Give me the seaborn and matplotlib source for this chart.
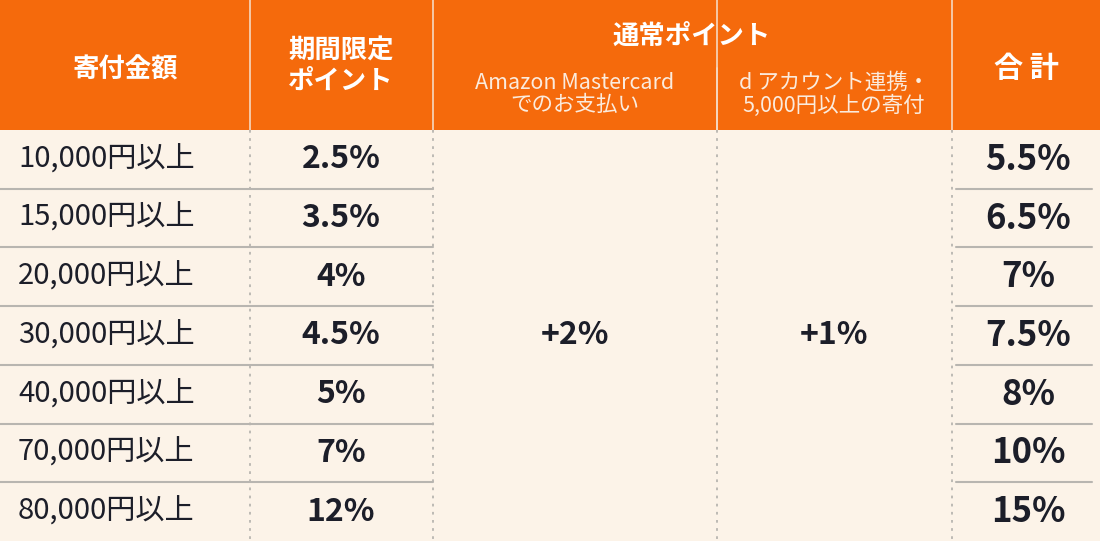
import matplotlib
matplotlib.use("Agg")
import matplotlib.pyplot as plt
import seaborn as sns
import pandas as pd

sns.set_theme(style="white", rc={"font.family": "Noto Sans CJK JP"})

amounts = ["10,000円以上", "15,000円以上", "20,000円以上", "30,000円以上",
           "40,000円以上", "70,000円以上", "80,000円以上"]
limited = ["2.5%", "3.5%", "4%", "4.5%", "5%", "7%", "12%"]
totals = ["5.5%", "6.5%", "7%", "7.5%", "8%", "10%", "15%"]
mastercard = "+2%"
daccount = "+1%"
headers = ["寄付金額", "期間限定\nポイント", "通常ポイント", "合 計"]
sub_headers = ["Amazon Mastercard\nでのお支払い", "d アカウント連携・\n5,000円以上の寄付"]

df = pd.DataFrame({"amount": amounts, "limited": limited, "total": totals})

ORANGE = "#F56A0C"
CREAM = "#FCF3E8"
DARK = "#1C1E29"
GRID = "#B8B5B0"

fig = plt.figure(figsize=(11, 5.41), dpi=100)
ax = fig.add_axes([0, 0, 1, 1])
ax.set_xlim(0, 1100)
ax.set_ylim(541, 0)
ax.axis("off")
fig.patch.set_facecolor(CREAM)

cols = [0, 250, 433, 717, 952, 1100]
head_h = 130
n = len(df)
row_h = (541 - head_h) / n

ax.add_patch(plt.Rectangle((0, 0), 1100, head_h, color=ORANGE, lw=0))
for x in cols[1:-1]:
    ax.plot([x, x], [0, head_h], color="#F6D9C2", lw=1.2)
ax.plot([717, 717], [68, head_h], color="#F6D9C2", lw=1.2)

hc = "#FFFFFF"
ax.text(125, 70, headers[0], ha="center", va="center", color=hc, fontsize=19, fontweight="bold")
ax.text(341, 66, headers[1], ha="center", va="center", color=hc, fontsize=19, fontweight="bold", linespacing=1.15)
ax.text(692, 36, headers[2], ha="center", va="center", color=hc, fontsize=19, fontweight="bold")
ax.text(575, 94, sub_headers[0], ha="center", va="center", color="#FBEBDD", fontsize=15.5, linespacing=1.05)
ax.text(834, 94, sub_headers[1], ha="center", va="center", color="#FBEBDD", fontsize=15.5, linespacing=1.05)
ax.text(1026, 68, headers[3], ha="center", va="center", color=hc, fontsize=21, fontweight="bold")

for i, r in df.iterrows():
    yc = head_h + row_h * (i + 0.5)
    ax.text(18, yc, r["amount"], ha="left", va="center", color=DARK, fontsize=21)
    ax.text(341, yc, r["limited"], ha="center", va="center", color=DARK, fontsize=23, fontweight="bold")
    ax.text(1028, yc, r["total"], ha="center", va="center", color=DARK, fontsize=25, fontweight="bold")
    if i < n - 1:
        yb = head_h + row_h * (i + 1)
        ax.plot([0, 433], [yb, yb], color=GRID, lw=1.5)
        ax.plot([956, 1092], [yb, yb], color=GRID, lw=1.5)

ymid = head_h + row_h * n / 2
ax.text(575, ymid, mastercard, ha="center", va="center", color=DARK, fontsize=23, fontweight="bold")
ax.text(834, ymid, daccount, ha="center", va="center", color=DARK, fontsize=23, fontweight="bold")

for x in cols[1:-1]:
    ax.plot([x, x], [head_h, 541], color=GRID, lw=1.3, ls=(0, (1.5, 3)))

fig.savefig("out.png", dpi=100, facecolor=CREAM)
